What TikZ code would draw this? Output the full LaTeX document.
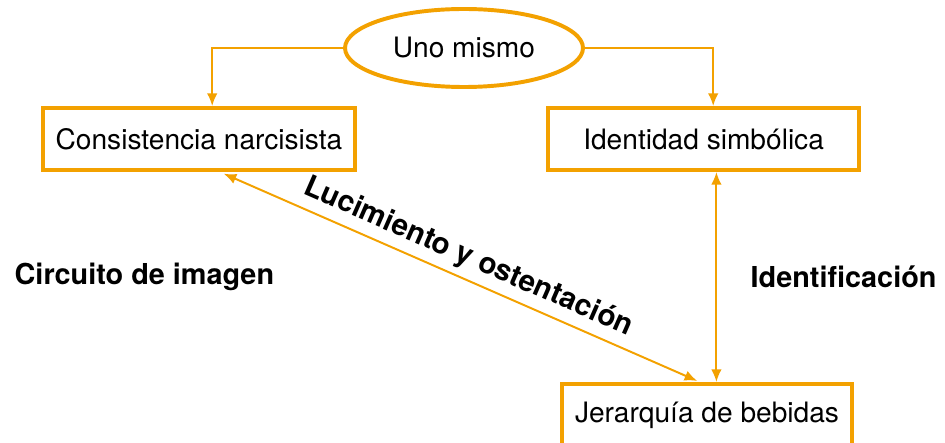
\documentclass[tikz,border=0pt]{standalone}
\usepackage{fontspec}
\setmainfont{TeX Gyre Heros}
\usepackage{xcolor}
\usetikzlibrary{shapes.geometric,arrows.meta,positioning,calc}
\definecolor{naranja}{RGB}{243,161,0}
\tikzset{
	caja/.style={draw=naranja,line width=2.8pt,fill=white,minimum width=7.8cm,minimum height=1.55cm,font=\fontsize{20}{24}\selectfont},
	flecha/.style={-{Latex[length=9pt,width=7.5pt]},naranja,line width=1.4pt},
	doble/.style={{Latex[length=9pt,width=7.5pt]}-{Latex[length=9pt,width=7.5pt]},naranja,line width=1.4pt},
	rotulo/.style={text=black,font=\bfseries\fontsize{20.5}{24}\selectfont}
}

\begin{document}
\begin{tikzpicture}
	\useasboundingbox (0,0) rectangle (23.625,11.05);
	% nodos
	\node[ellipse,draw=naranja,line width=2.8pt,minimum width=5.95cm,minimum height=1.95cm,inner sep=0pt,font=\fontsize{20}{24}\selectfont] (uno) at (11.6,9.85) {Uno mismo};
	\node[caja] (narc) at (4.975,7.575) {Consistencia narcisista};
	\node[caja,minimum width=7.775cm] (ident) at (17.59,7.575) {Identidad simbólica};
	\node[caja,minimum width=7.25cm] (beb) at (17.675,0.675) {Jerarquía de bebidas};
	\node[rotulo] (circ) at (3.61,4.125) {Circuito de imagen};
	\node[rotulo] (iden) at (21.09,4.125) {Identificación};
	% flechas
	\draw[flecha] (uno.west) -| ([xshift=0.33cm]narc.north);
	\draw[flecha] (uno.east) -| ([xshift=0.24cm]ident.north);
	\draw[doble] ([xshift=0.32cm]ident.south) -- ([xshift=0.32cm]ident.south |- beb.north);
	\draw[doble,shorten <=3pt,shorten >=2pt] ([xshift=0.52cm]narc.south) -- ([xshift=-0.18cm]beb.north)
		node[midway,sloped,above=1pt,rotulo,font=\bfseries\fontsize{21}{25}\selectfont] (luc) {Lucimiento y ostentación};
\end{tikzpicture}
\end{document}
